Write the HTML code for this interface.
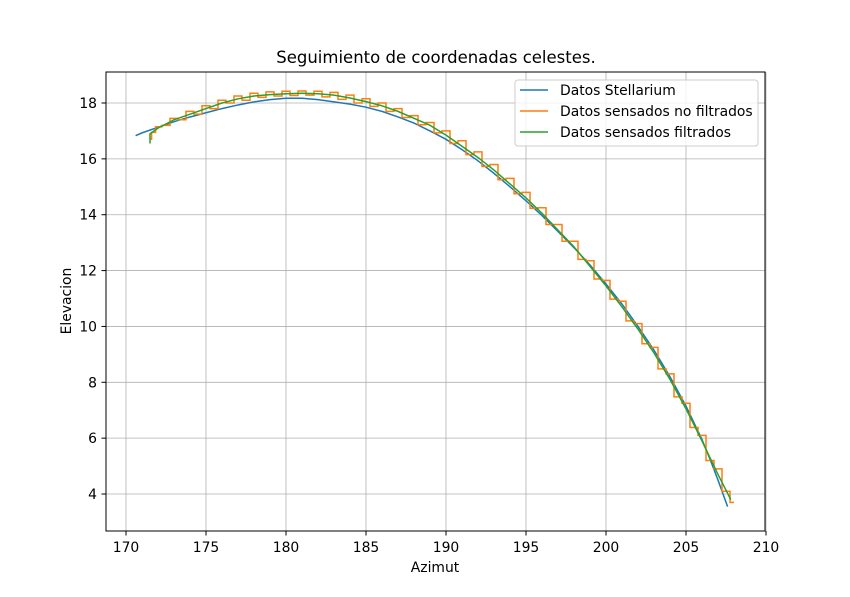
<!DOCTYPE html>
<html><head><meta charset="utf-8"><style>
html,body{margin:0;padding:0;background:#fff;}
svg{display:block;font-family:"DejaVu Sans","Liberation Sans",sans-serif;}
</style></head><body>
<svg id="chart" width="850" height="597" viewBox="0 0 850 597">
<rect width="850" height="597" fill="#fff"/>
<text x="436" y="63" text-anchor="middle" font-size="16.5">Seguimiento de coordenadas celestes.</text>
<g id="grid"></g><g id="series"></g>
<rect x="106" y="72" width="659" height="459" fill="none" stroke="#000" stroke-width="1"/>
<g id="ticks"></g>
<text x="435" y="572" text-anchor="middle" font-size="13.9">Azimut</text>
<text transform="translate(71,301) rotate(-90)" text-anchor="middle" font-size="13.9">Elevacion</text>
<g>
<rect x="515" y="80" width="243" height="66" rx="3" fill="#fff" fill-opacity="0.8" stroke="#ccc"/>
<line x1="520" y1="90" x2="548" y2="90" stroke="#1f77b4" stroke-width="1.5"/>
<text x="560" y="95" font-size="13.9">Datos Stellarium</text>
<line x1="520" y1="111" x2="548" y2="111" stroke="#ff7f0e" stroke-width="1.5"/>
<text x="560" y="116" font-size="13.9">Datos sensados no filtrados</text>
<line x1="520" y1="132" x2="548" y2="132" stroke="#2ca02c" stroke-width="1.5"/>
<text x="560" y="137" font-size="13.9">Datos sensados filtrados</text>
</g>
</svg>
<script>
const xTicks=[170,175,180,185,190,195,200,205,210];
const yTicks=[4,6,8,10,12,14,16,18];
const stellX=[170.6,171,172,173,174,175,176,177,178,179,180,181,182,183,184,185,186,187,188,189,190,191,192,193,194,195,196,197,198,199,200,201,202,203,204,205,206,206.5,207,207.6];
const stellY=[16.83,16.93,17.13,17.33,17.5,17.65,17.8,17.93,18.04,18.12,18.17,18.17,18.12,18.04,17.96,17.85,17.7,17.5,17.28,17.0,16.7,16.33,15.93,15.48,15.0,14.5,13.97,13.4,12.82,12.2,11.52,10.8,10.0,9.15,8.2,7.15,5.95,5.25,4.5,3.55];
const rawX=[171.5,171.7,172,172.5,173,173.5,174,174.5,175,175.5,176,176.5,177,177.5,178,178.5,179,179.5,180,180.5,181,181.5,182,182.5,183,183.5,184,184.5,185,185.5,186,186.5,187,187.5,188,188.5,189,189.5,190,190.5,191,191.5,192,192.5,193,193.5,194,194.5,195,195.5,196,196.5,197,197.5,198,198.5,199,199.5,200,200.5,201,201.5,202,202.5,203,203.5,204,204.5,205,205.5,206,206.5,207,207.5,208];
const rawY=[16.7,16.95,17.15,17.2,17.45,17.4,17.7,17.6,17.9,17.8,18.1,18.0,18.25,18.1,18.35,18.2,18.4,18.25,18.42,18.27,18.43,18.28,18.42,18.22,18.38,18.13,18.28,18.0,18.15,17.88,18.0,17.7,17.8,17.48,17.55,17.22,17.3,16.93,17.0,16.55,16.65,16.15,16.25,15.73,15.8,15.25,15.3,14.75,14.8,14.23,14.25,13.65,13.65,13.05,13.05,12.4,12.35,11.7,11.65,10.98,10.9,10.2,10.1,9.38,9.25,8.48,8.3,7.48,7.25,6.38,6.1,5.2,4.9,4.1,3.7];
const filtX=[171.5,171.5,172,173,174,175,176,177,178,179,180,181,182,183,184,185,186,187,188,189,190,191,192,193,194,195,196,197,198,199,200,201,202,203,204,205,206,207,207.8];
const filtY=[16.55,16.9,17.1,17.4,17.6,17.8,18.0,18.15,18.25,18.3,18.33,18.35,18.33,18.28,18.18,18.05,17.9,17.7,17.45,17.2,16.85,16.45,16.05,15.6,15.1,14.6,14.05,13.45,12.85,12.15,11.45,10.7,9.9,9.05,8.1,7.05,5.9,4.7,3.8];
const X=v=>126+(v-170)*16, Y=v=>103+(18-v)*27.93;
const NS='http://www.w3.org/2000/svg';
function mk(t,a,p){const e=document.createElementNS(NS,t);for(const k in a)e.setAttribute(k,a[k]);p.appendChild(e);return e;}
const grid=document.getElementById('grid'),ticks=document.getElementById('ticks'),ser=document.getElementById('series');
xTicks.forEach(t=>{const x=X(t);
const g=mk('line',{x1:x,x2:x,y1:72,y2:531,stroke:'#b0b0b0','stroke-width':0.8},grid);


mk('line',{x1:x,x2:x,y1:531,y2:535.5,stroke:'#000'},ticks);
const l=mk('text',{x:x,y:552,'text-anchor':'middle','font-size':13.9},ticks);l.textContent=t;

});
yTicks.forEach(t=>{const y=Y(t);
const g=mk('line',{x1:106,x2:765,y1:y,y2:y,stroke:'#b0b0b0','stroke-width':0.8},grid);


mk('line',{x1:101.5,x2:106,y1:y,y2:y,stroke:'#000'},ticks);
const l=mk('text',{x:97,y:y+5,'text-anchor':'end','font-size':13.9},ticks);l.textContent=t;

});
function poly(xs,ys,step){let d='';for(let i=0;i<xs.length;i++){if(i===0)d='M'+X(xs[0])+','+Y(ys[0]);else if(step){const m=(X(xs[i-1])+X(xs[i]))/2;d+=' H'+m+' V'+Y(ys[i])+' H'+X(xs[i]);}else d+=' L'+X(xs[i])+','+Y(ys[i]);}return d;}
const p1=mk('path',{d:poly(stellX,stellY,false),fill:'none',stroke:'#1f77b4','stroke-width':1.5},ser);


const p2=mk('path',{d:poly(rawX,rawY,true),fill:'none',stroke:'#ff7f0e','stroke-width':1.5},ser);


const p3=mk('path',{d:poly(filtX,filtY,false),fill:'none',stroke:'#2ca02c','stroke-width':1.5},ser);


</script>
</body></html>
